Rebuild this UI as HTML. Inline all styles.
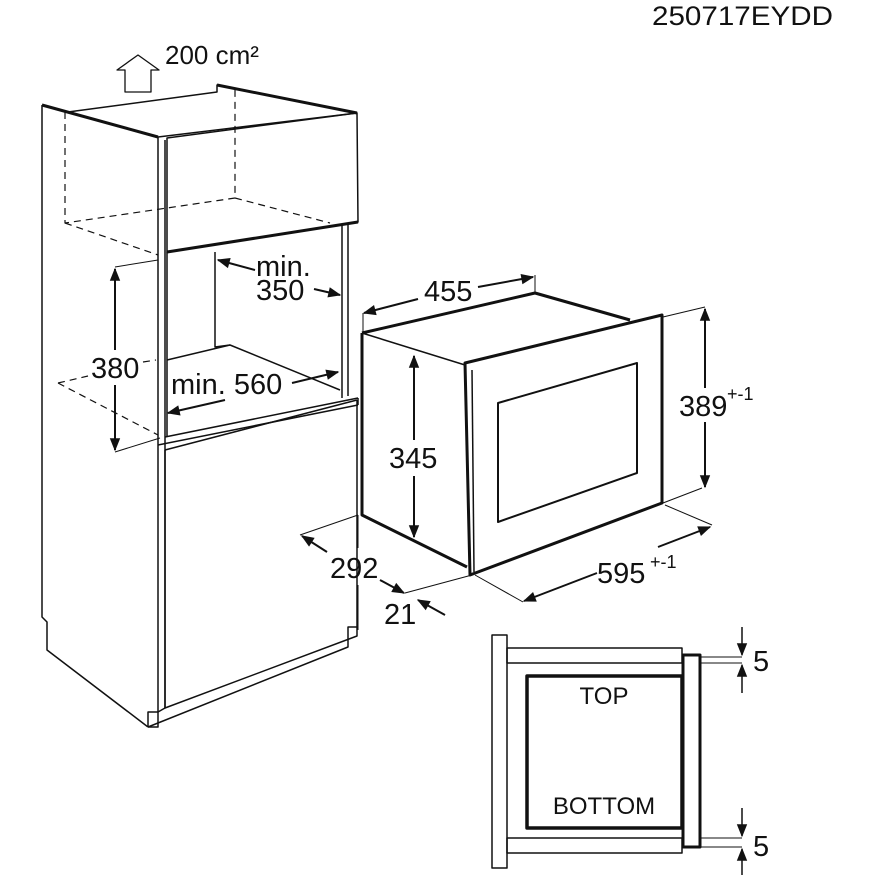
<!DOCTYPE html>
<html><head><meta charset="utf-8"><style>
html,body{margin:0;padding:0;background:#fff;}
svg{display:block}
text{font-family:"Liberation Sans",sans-serif;fill:#111}
</style></head><body>
<svg width="875" height="875" viewBox="0 0 875 875" xmlns="http://www.w3.org/2000/svg">
<defs>
<marker id="b" viewBox="0 0 10 10" refX="9" refY="5" markerWidth="19" markerHeight="13" orient="auto-start-reverse" markerUnits="userSpaceOnUse"><path d="M0,1 L10,5 L0,9 z" fill="#111"/></marker>
</defs>
<g fill="none" stroke="#111" stroke-width="1.5" stroke-linejoin="round">
<path d="M125,92 L125,70 L117,70 L138,55 L159,70 L151,70 L151,92 Z" stroke-width="1.3"/>
<path d="M42,105 L42,617 L47,622 L47,650 L148,727"/>
<path d="M42,105 L158,137" stroke-width="3"/>
<path d="M68,112 L217,92 L217,85 L357,113" />
<path d="M217,85 L357,113" stroke-width="3"/>
<path d="M158,137 L357,113"/>
<path d="M158,137 L158,727 L148,727 M165,140 L165,708"/>
<path d="M167,138 L357,113 L358,222 L167,252 Z"/>
<path d="M167,252 L358,222" stroke-width="3"/>
<g stroke-dasharray="7,5" stroke-width="1.2">
<path d="M65,112 L65,223 L235,198 L235,90"/>
<path d="M235,198 L330,223"/>
<path d="M65,223 L158,255"/>
<path d="M58,383 L158,435"/>
<path d="M58,383 L88,376"/>
<path d="M143,362 L156,360"/>
</g>
<path d="M167,252 L167,437 M215,252 L215,347 L230,345 L340,390"/>
<path d="M167,360 L230,345"/>
<path d="M342,224 L342,398 M348,223 L348,396"/>
<path d="M165,437 L358,398 M158,445 L358,405 M358,398 L358,405"/>
<path d="M165,450 L357,400"/>
<path d="M165,450 L165,708 L357,636 L357,400"/>
<path d="M148,727 L348,647 L348,627 L357,627"/>
<path d="M158,712 L165,708 M148,727 L148,712 L158,712"/>
<path d="M115,267 L158,260 M115,452 L160,438" stroke-width="1"/>
<path d="M115,350 L115,269" marker-end="url(#b)" stroke-width="2"/>
<path d="M115,385 L115,450" marker-end="url(#b)" stroke-width="2"/>
<path d="M255,270 L218,260" marker-end="url(#b)" stroke-width="2"/>
<path d="M314,289 L340,295" marker-end="url(#b)" stroke-width="2"/>
<path d="M292,383 L338,372" marker-end="url(#b)" stroke-width="2"/>
<path d="M225,400 L168,413" marker-end="url(#b)" stroke-width="2"/>
<path d="M362,333 L362,515 L467,567" stroke-width="3"/>
<path d="M362,333 L465,365"/>
<path d="M362,333 L535,293 L630,320" stroke-width="3"/>
<path d="M465,363 L662,315 L662,503 L470,575 Z" stroke-width="3"/>
<path d="M472,370 L474,572"/>
<path d="M498,403 L637,363 L637,473 L498,522 Z" stroke-width="2"/>
<path d="M363,313 L363,333 M535,275 L535,293" stroke-width="1"/>
<path d="M418,299 L364,313" marker-end="url(#b)" stroke-width="2"/>
<path d="M478,287 L533,277" marker-end="url(#b)" stroke-width="2"/>
<path d="M663,317 L705,307 M663,503 L702,488" stroke-width="1"/>
<path d="M705,388 L705,309" marker-end="url(#b)" stroke-width="2"/>
<path d="M705,422 L705,487" marker-end="url(#b)" stroke-width="2"/>
<path d="M414,440 L414,356" marker-end="url(#b)" stroke-width="2"/>
<path d="M414,476 L414,537" marker-end="url(#b)" stroke-width="2"/>
<path d="M300,535 L358,515 M358,515 L358,548 M358,585 L358,630 M405,593 L472,575" stroke-width="1"/>
<path d="M327,552 L302,536" marker-end="url(#b)" stroke-width="2"/>
<path d="M380,580 L404,593" marker-end="url(#b)" stroke-width="2"/>
<path d="M445,615 L418,600" marker-end="url(#b)" stroke-width="2"/>
<path d="M475,575 L523,602 M665,505 L712,525" stroke-width="1"/>
<path d="M597,573 L524,601" marker-end="url(#b)" stroke-width="2"/>
<path d="M658,547 L710,527" marker-end="url(#b)" stroke-width="2"/>
<rect x="492" y="635" width="15" height="233"/>
<rect x="507" y="648" width="175" height="15"/>
<rect x="507" y="838" width="175" height="15"/>
<rect x="527" y="676" width="155" height="152" stroke-width="3.5"/>
<rect x="683" y="655" width="17" height="192" stroke-width="3"/>
<path d="M700,657 L742,657 M700,663 L742,663 M700,838 L742,838 M700,847 L742,847" stroke-width="1"/>
<path d="M742,627 L742,655" marker-end="url(#b)"/>
<path d="M742,693 L742,665" marker-end="url(#b)"/>
<path d="M742,808 L742,836" marker-end="url(#b)"/>
<path d="M742,875 L742,849" marker-end="url(#b)"/>
</g>
<text x="652" y="25" font-size="27" textLength="181" lengthAdjust="spacingAndGlyphs">250717EYDD</text>
<text x="165" y="64" font-size="26">200 cm²</text>
<text x="256" y="276" font-size="29">min.</text>
<text x="256" y="300" font-size="29">350</text>
<text x="91" y="378" font-size="29">380</text>
<text x="171" y="394" font-size="29">min. 560</text>
<text x="424" y="301" font-size="29">455</text>
<text x="389" y="468" font-size="29">345</text>
<text x="679" y="416" font-size="29">389</text>
<text x="727" y="400" font-size="18">+-1</text>
<text x="330" y="578" font-size="29">292</text>
<text x="597" y="583" font-size="29">595</text>
<text x="650" y="568" font-size="18">+-1</text>
<text x="384" y="624" font-size="29">21</text>
<text x="604" y="704" font-size="24" text-anchor="middle">TOP</text>
<text x="604" y="814" font-size="24" text-anchor="middle">BOTTOM</text>
<text x="753" y="671" font-size="29">5</text>
<text x="753" y="856" font-size="29">5</text>
</svg>
</body></html>
